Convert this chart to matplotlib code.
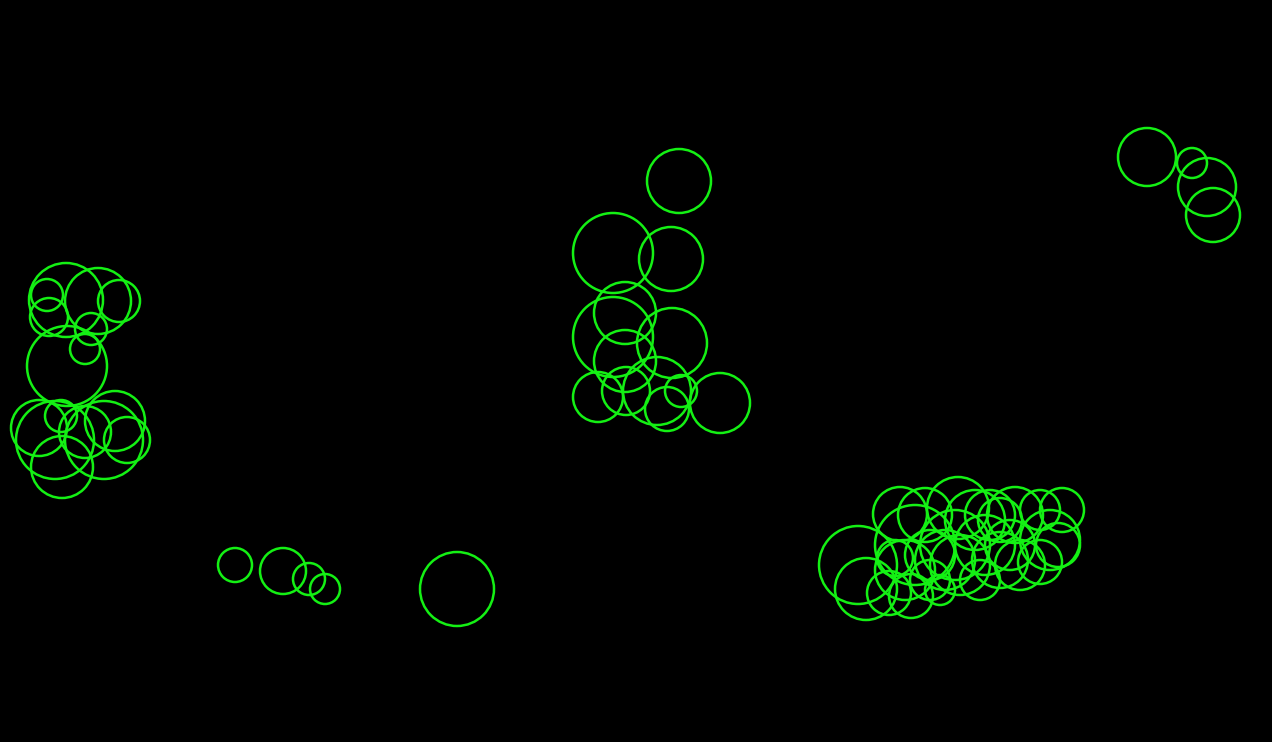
import matplotlib
matplotlib.use("Agg")
import matplotlib.pyplot as plt
from matplotlib.patches import Circle

# circle centres (x, y in canvas units) and radii
cx = [66, 98, 119, 47, 49, 91, 85, 67, 39, 55, 61, 62, 115, 104, 127, 85,
      679, 613, 671, 625, 613, 672, 625, 598, 626, 657, 667, 681, 720,
      1147, 1192, 1207, 1213,
      235, 283, 309, 325, 457,
      858, 866, 900, 925, 958, 915, 895, 889, 911, 930, 945, 955, 975, 990,
      1000, 1015, 1040, 1062, 1050, 1058, 1040, 1020, 1000, 980, 960, 930,
      985, 1010, 905, 940]
cy = [300, 301, 301, 295, 317, 329, 349, 366, 428, 440, 416, 467, 421, 440, 440, 432,
      181, 253, 259, 313, 337, 343, 361, 397, 391, 391, 409, 391, 403,
      157, 163, 187, 215,
      565, 571, 579, 589, 589,
      565, 589, 514, 515, 508, 545, 558, 593, 596, 580, 560, 545, 520, 515,
      520, 515, 510, 510, 540, 545, 562, 565, 560, 580, 565, 555,
      545, 545, 570, 590]
r = [37, 33, 21, 16, 19, 16, 15, 40, 28, 39, 16, 31, 30, 39, 23, 26,
     32, 40, 32, 31, 40, 35, 31, 25, 24, 34, 22, 16, 30,
     29, 15, 29, 27,
     17, 23, 16, 15, 37,
     39, 31, 27, 27, 31, 40, 18, 22, 22, 20, 30, 35, 30, 25,
     22, 28, 20, 22, 30, 22, 22, 25, 28, 20, 30, 25,
     30, 25, 30, 15]

fig = plt.figure(figsize=(12.72, 7.42), dpi=100, facecolor="black")
ax = fig.add_axes([0, 0, 1, 1])
ax.set_facecolor("black")
ax.set_xlim(0, 1272)
ax.set_ylim(742, 0)
ax.set_aspect("equal")
ax.axis("off")

for x, y, rr in zip(cx, cy, r):
    ax.add_patch(Circle((x, y), rr, fill=False, edgecolor="#14f014", linewidth=1.8))

fig.savefig("out.png", dpi=100, facecolor="black")
